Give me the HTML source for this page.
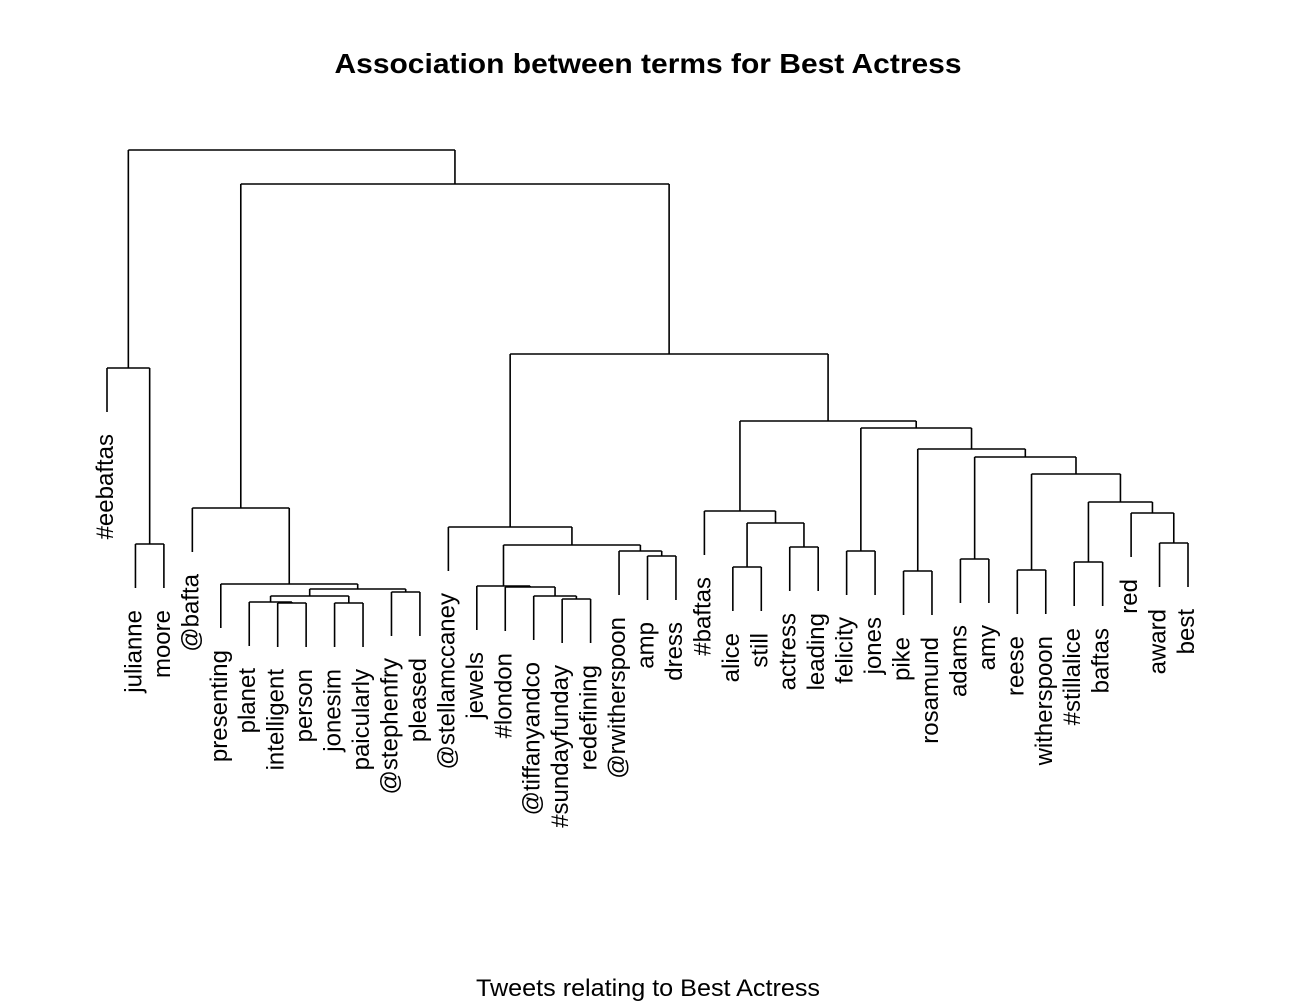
<!DOCTYPE html>
<html><head><meta charset="utf-8"><style>body{margin:0;background:#fff}svg{display:block}</style></head>
<body>
<svg id="chart" width="1295" height="1005" viewBox="0 0 1295 1005" xmlns="http://www.w3.org/2000/svg" font-family="Liberation Sans, sans-serif">
<text x="648" y="73" text-anchor="middle" font-size="28" font-weight="bold" textLength="627" lengthAdjust="spacingAndGlyphs">Association between terms for Best Actress</text>
<text x="648" y="996" text-anchor="middle" font-size="24" textLength="344" lengthAdjust="spacingAndGlyphs">Tweets relating to Best Actress</text>
<g id="tree"></g>
</svg>
<script>
const leaves = ["#eebaftas","julianne","moore","@bafta","presenting","planet","intelligent","person","jonesim","paicularly","@stephenfry","pleased","@stellamccaney","jewels","#london","@tiffanyandco","#sundayfunday","redefining","@rwitherspoon","amp","dress","#baftas","alice","still","actress","leading","felicity","jones","pike","rosamund","adams","amy","reese","witherspoon","#stillalice","baftas","red","award","best"];
const mergeLeft = ["julianne","#eebaftas","intelligent","planet","jonesim","m3","@stephenfry","m5","presenting","@bafta","#sundayfunday","@tiffanyandco","#london","jewels","amp","@rwitherspoon","m13","@stellamccaney","alice","actress","m18","#baftas","felicity","pike","adams","reese","#stillalice","award","red","m26","m25","m24","m23","m22","m21","m17","m9","m1"];
const mergeRight = ["moore","m0","person","m2","paicularly","m4","pleased","m6","m7","m8","redefining","m10","m11","m12","dress","m14","m15","m16","still","leading","m19","m20","jones","rosamund","amy","witherspoon","baftas","best","m27","m28","m29","m30","m31","m32","m33","m34","m35","m36"];
const mergeHeight = [11.6,29.2,5.7,5.8,5.7,6.4,6.8,7.1,7.6,15.2,6.1,6.4,7.3,7.4,10.4,10.9,11.5,13.3,9.3,11.3,13.7,14.9,10.9,8.9,10.1,9.0,9.8,11.7,14.7,15.8,18.6,20.3,21.1,23.2,23.9,30.6,47.6,51.0];
const hang = 4.4;

const NS = "http://www.w3.org/2000/svg";
const xScale = i => 107 + i * (1188 - 107) / (leaves.length - 1);
const yScale = h => 660 - h * 10;
const g = document.getElementById('tree');
const nodes = {};
leaves.forEach((name, i) => { nodes[name] = {x: xScale(i), h: null, leaf: true}; });
function line(x1,y1,x2,y2,name){
  const l = document.createElementNS(NS,'line');
  l.setAttribute('x1',x1);l.setAttribute('y1',y1);l.setAttribute('x2',x2);l.setAttribute('y2',y2);
  l.setAttribute('stroke','#000');l.setAttribute('stroke-width','1.6');
  
  
  g.appendChild(l);
}
function bottomY(n, parentH){
  return n.leaf ? yScale(parentH - hang) : yScale(n.h);
}
for (let k = 0; k < mergeHeight.length; k++) {
  const a = nodes[mergeLeft[k]], b = nodes[mergeRight[k]], h = mergeHeight[k];
  const y = yScale(h);
  line(a.x, y, a.x, bottomY(a, h), 'branch-' + k + '-left');
  line(b.x, y, b.x, bottomY(b, h), 'branch-' + k + '-right');
  line(a.x, y, b.x, y, 'merge-bar-' + k);
  nodes['m' + k] = {x: (a.x + b.x) / 2, h: h, leaf: false};
  if (a.leaf) a.ph = h;
  if (b.leaf) b.ph = h;
}
leaves.forEach((name, i) => {
  const n = nodes[name];
  const yTop = yScale(n.ph - hang) + 22;
  const t = document.createElementNS(NS,'text');
  t.setAttribute('x', 0); t.setAttribute('y', 0);
  t.setAttribute('transform', `translate(${n.x + 6},${yTop}) rotate(-90)`);
  t.setAttribute('text-anchor','end');
  t.setAttribute('font-size','24');
  
  
  t.textContent = name;
  g.appendChild(t);
});
</script>
</body></html>
